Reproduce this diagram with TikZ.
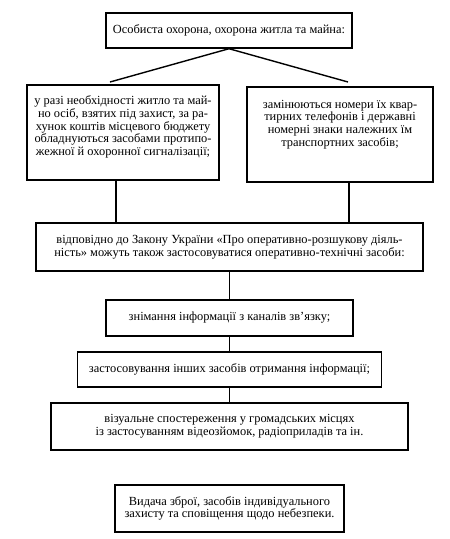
\documentclass[tikz,border=0pt]{standalone}
\usepackage{fontspec}
\setmainfont{Liberation Serif}
\newcommand{\boxfont}{\fontsize{12.4}{12.6}\selectfont}
\begin{document}
\begin{tikzpicture}[x=1pt,y=-1pt,
  box/.style={draw, line width=1.4pt, inner sep=0pt, align=center, font=\boxfont},
  conn/.style={line width=1.4pt}]
\useasboundingbox (0,0) rectangle (450,539);
\node[box, minimum width=246pt, minimum height=35pt] (top) at (229,30.5) {Особиста охорона, охорона житла та майна:};
\node[box] (left) at (123,132.5) {\parbox[c][95pt][t]{192pt}{\centering\boxfont\vspace{11pt}у разі необхідності житло та май-\\но осіб, взятих під захист, за ра-\\хунок коштів місцевого бюджету\\обладнуються засобами протипо-\\жежної й охоронної сигналізації;}};
\node[box] (right) at (340,134.5) {\parbox[c][95pt][t]{186pt}{\centering\boxfont\vspace{13pt}замінюються номери їх квар-\\тирних телефонів і державні\\номерні знаки належних їм\\транспортних засобів;}};
\node[box, minimum width=387pt, minimum height=48pt] (mid) at (229.5,247) {відповідно до Закону України «Про оперативно-розшукову діяль-\\ність» можуть також застосовуватися оперативно-технічні засоби:};
\node[box, minimum width=247pt, minimum height=36pt] (b2) at (229.5,318) {знімання інформації з каналів зв’язку;};
\node[box, minimum width=304pt, minimum height=35pt] (b3) at (229.5,369.5) {застосовування інших засобів отримання інформації;};
\node[box, minimum width=357pt, minimum height=47pt] (b4) at (229.5,426.5) {візуальне спостереження у громадських місцях\\із застосуванням відеозйомок, радіоприладів та ін.};
\node[box, minimum width=229pt, minimum height=47pt] (b5) at (229.5,508.5) {Видача зброї, засобів індивідуального\\захисту та сповіщення щодо небезпеки.};
\coordinate (lt) at (110,82);
\coordinate (rt) at (348,82);
\draw[conn] (top.south) -- (lt);
\draw[conn] (top.south) -- (rt);
\draw[conn] (left.south -| 116,0) -- (mid.north -| 116,0);
\draw[conn] (right.south -| 349,0) -- (mid.north -| 349,0);
\draw[conn] (mid.south) -- (b2.north);
\draw[conn] (b2.south) -- (b3.north);
\draw[conn] (b3.south) -- (b4.north);
\end{tikzpicture}
\end{document}
